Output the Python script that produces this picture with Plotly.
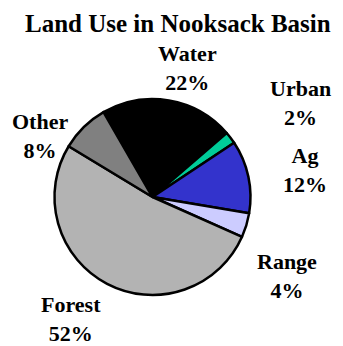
import plotly.graph_objects as go

categories = ["Water", "Urban", "Ag", "Range", "Forest", "Other"]
values = [22, 2, 12, 4, 52, 8]
colors = ["#000000", "#00CC99", "#3333CC", "#CCCCFF", "#B3B3B3", "#808080"]

W, H = 343, 346

# label block centers (pixel positions in the picture)
label_pos = {
    "Water": (188, 68),
    "Urban": (300, 103),
    "Ag": (305, 169.5),
    "Range": (287, 276),
    "Forest": (71, 318.5),
    "Other": (40, 135.5),
}

FAMILY = "Times New Roman, Liberation Serif, Tinos, serif"

fig = go.Figure(go.Pie(
    labels=categories,
    values=values,
    sort=False,
    direction="clockwise",
    rotation=-30,
    marker=dict(colors=colors, line=dict(color="#000000", width=2.5)),
    textinfo="none",
    hoverinfo="label+percent",
    showlegend=False,
    domain=dict(x=[54 / W, 251 / W], y=[1 - 295 / H, 1 - 99 / H]),
))

font = dict(family=FAMILY, size=22, color="#000000", weight="bold")
for cat, v in zip(categories, values):
    px, py = label_pos[cat]
    fig.add_annotation(
        x=px / W, y=1 - py / H, xref="paper", yref="paper",
        text=f"{cat}<br>{v}%", showarrow=False,
        xanchor="center", yanchor="middle", align="center", font=font,
    )

fig.add_annotation(
    x=178 / W, y=1 - 23.7 / H, xref="paper", yref="paper",
    text="Land Use in Nooksack Basin", showarrow=False,
    xanchor="center", yanchor="middle",
    font=dict(family=FAMILY, size=25, color="#000000", weight="bold"),
)

fig.update_layout(
    width=W, height=H,
    margin=dict(l=0, r=0, t=0, b=0),
    paper_bgcolor="#FFFFFF",
    plot_bgcolor="#FFFFFF",
)

fig.write_html("out.html")
